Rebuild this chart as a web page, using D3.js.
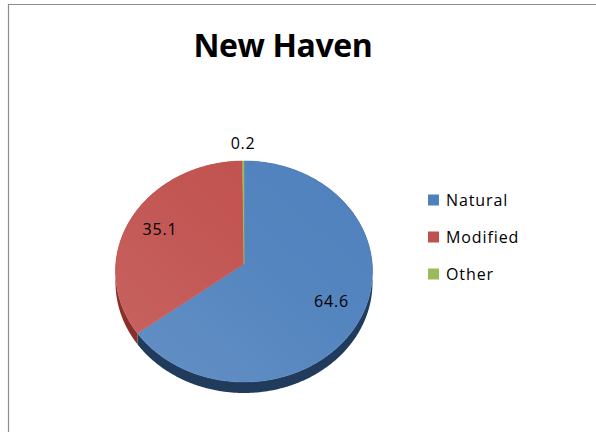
<!DOCTYPE html>
<html>
<head>
<meta charset="utf-8">
<script src="https://cdn.jsdelivr.net/npm/d3@7/dist/d3.min.js"></script>
<style>
  html, body { margin: 0; padding: 0; background: #fff; }
  svg { display: block; }
</style>
</head>
<body>
<svg id="chart" width="596" height="432"></svg>
<script>
const title = "New Haven";
const categories = ["Natural", "Modified", "Other"];
const values = [64.6, 35.1, 0.2];
const valueLabels = ["64.6", "35.1", "0.2"];
const topColors = ["#4F81BD", "#C0504D", "#9BBB59"];
const sideColors = ["#213B5C", "#8A2E2C", "#6A8A35"];

const W = 596, H = 432;
const svg = d3.select("#chart");

// frame
svg.append("path")
  .attr("d", `M8.5,${H} V4.5 H${W}`)
  .attr("fill", "none").attr("stroke", "#8C8C8C").attr("stroke-width", 1.2);

// title
svg.append("text")
  .attr("x", 283).attr("y", 56.5)
  .attr("text-anchor", "middle")
  .attr("font-family", "'Open Sans', sans-serif")
  .attr("font-weight", "bold")
  .attr("font-size", 32)
  .attr("letter-spacing", -0.4)
  .attr("fill", "#000")
  .text(title);

// perspective projection of the pie plane
const cx = 244, cy = 264, a = 128.2, b = 110, p = -0.0678, depth = 11;
function proj(theta, r) {
  const u = r * Math.sin(theta), v = -r * Math.cos(theta);
  const w = 1 + p * v;
  return [cx + a * u / w, cy + b * v / w];
}

const pie = d3.pie().sort(null).value(d => d)(values);

function arcPoints(d) {
  const pts = [];
  const n = Math.max(2, Math.ceil((d.endAngle - d.startAngle) / (Math.PI / 360)));
  for (let i = 0; i <= n; i++) {
    const t = d.startAngle + (d.endAngle - d.startAngle) * i / n;
    pts.push(proj(t, 1));
  }
  return pts;
}

const defs = svg.append("defs");
const grad = defs.append("linearGradient").attr("id", "shine")
  .attr("x1", "0").attr("y1", "1").attr("x2", "1").attr("y2", "0");
grad.append("stop").attr("offset", "0").attr("stop-color", "#fff").attr("stop-opacity", 0.12);
grad.append("stop").attr("offset", "0.6").attr("stop-color", "#fff").attr("stop-opacity", 0.03);
grad.append("stop").attr("offset", "1").attr("stop-color", "#fff").attr("stop-opacity", 0);

const line = d3.line();

// side walls
const gSide = svg.append("g");
pie.forEach((d, i) => {
  const pts = arcPoints(d);
  const shifted = pts.slice().reverse().map(q => [q[0], q[1] + depth]);
  gSide.append("path")
    .attr("d", line(pts.concat(shifted)) + "Z")
    .attr("fill", sideColors[i]);
});

// top faces
const gTop = svg.append("g");
pie.forEach((d, i) => {
  const pts = [[cx, cy]].concat(arcPoints(d));
  gTop.append("path")
    .attr("d", line(pts) + "Z")
    .attr("fill", topColors[i])
    .attr("stroke", topColors[i]).attr("stroke-width", 0.5);
});
// subtle shine overlay
const all = d3.range(0, 361).map(k => proj(k * Math.PI / 180, 1));
gTop.append("path").attr("d", line(all) + "Z").attr("fill", "url(#shine)");

// data labels
const labelFont = "'Open Sans', sans-serif";
pie.forEach((d, i) => {
  const mid = (d.startAngle + d.endAngle) / 2;
  const frac = (d.endAngle - d.startAngle) / (2 * Math.PI);
  const r = frac < 0.05 ? 1.185 : 0.745;
  const [x, y] = proj(mid, r);
  svg.append("text")
    .attr("x", x).attr("y", y).attr("dy", "0.36em")
    .attr("text-anchor", "middle")
    .attr("font-family", labelFont)
    .attr("font-size", 16)
    .attr("letter-spacing", 0.8)
    .attr("fill", "#000")
    .text(valueLabels[i]);
});

// legend
const legend = svg.append("g");
const lgY = d3.scalePoint().domain(categories).range([200, 274]);
categories.forEach((c, i) => {
  const y = lgY(c);
  legend.append("rect")
    .attr("x", 428).attr("y", y - 5.5).attr("width", 11).attr("height", 11)
    .attr("fill", topColors[i]);
  legend.append("text")
    .attr("x", 446).attr("y", y).attr("dy", "0.36em")
    .attr("font-family", labelFont)
    .attr("font-size", 16)
    .attr("letter-spacing", 0.9)
    .attr("fill", "#000")
    .text(c);
});
</script>
</body>
</html>
